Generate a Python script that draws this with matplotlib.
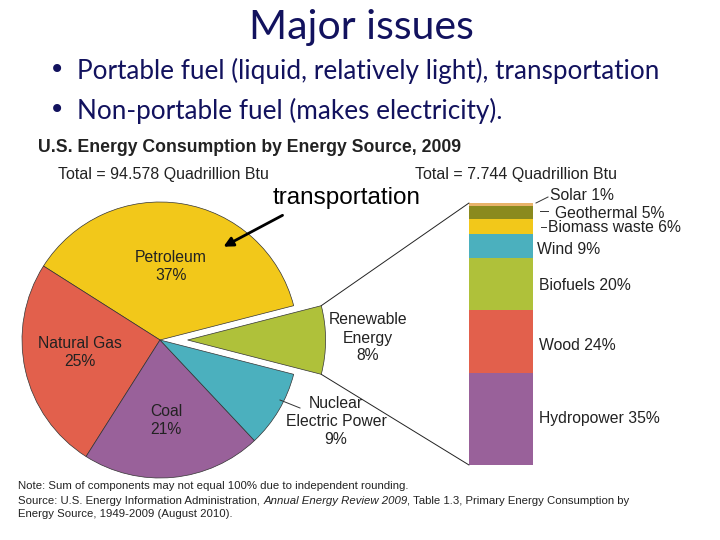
import matplotlib
matplotlib.use('Agg')
import matplotlib.pyplot as plt
from matplotlib.patches import ConnectionPatch, FancyArrowPatch
import numpy as np

# pie data (share of total US energy, 2009)
pie_labels = ['Renewable\nEnergy\n8%', 'Petroleum\n37%', 'Natural Gas\n25%', 'Coal\n21%',
              'Nuclear\nElectric Power\n9%']
pie_values = [8, 37, 25, 21, 9]
pie_colors = ['#AFC13A', '#F2C81A', '#E2604C', '#99619A', '#4BB0BE']

# renewable breakdown, bottom to top
bar_labels = ['Hydropower 35%', 'Wood 24%', 'Biofuels 20%', 'Wind 9%',
              'Biomass waste 6%', 'Geothermal 5%', 'Solar 1%']
bar_values = [35, 24, 20, 9, 6, 5, 1]
bar_colors = ['#99619A', '#E2604C', '#AFC13A', '#4BB0BE', '#F2C81A', '#8A8A1E', '#E9B36A']

W, H = 720, 540
fig = plt.figure(figsize=(7.2, 5.4), dpi=100)
fig.patch.set_facecolor('white')

# pie, centre at (160, 340) px, radius 138 px
cx, cy, R = 160, 340, 138
k = 1.4
side = 2 * k * R
ax = fig.add_axes([(cx - side / 2) / W, (H - cy - side / 2) / H, side / W, side / H])
wedges, _ = ax.pie(pie_values, colors=pie_colors, startangle=-14.4, counterclock=True,
                   explode=[0.2, 0, 0, 0, 0],
                   wedgeprops=dict(edgecolor='#333333', linewidth=0.5))
ax.set_xlim(-k, k)
ax.set_ylim(-k, k)
ax.set_aspect('equal')
ax.axis('off')

# stacked bar for the renewables
axb = fig.add_axes([469 / W, (H - 465) / H, 64 / W, 262 / H])
bottom = 0
for v, c in zip(bar_values, bar_colors):
    axb.bar(0, v, bottom=bottom, width=1, color=c, linewidth=0)
    bottom += v
axb.set_xlim(-0.5, 0.5)
axb.set_ylim(0, 100)
axb.axis('off')

# overlay in pixel coords for the text (on top)
bg = fig.add_axes([0, 0, 1, 1])
bg.set_xlim(0, W)
bg.set_ylim(H, 0)
bg.patch.set_alpha(0)
bg.axis('off')

navy = '#12125E'
bg.text(361, 27, 'Major issues', fontsize=29.5, family='Lato', color=navy,
        ha='center', va='center')
bg.text(57, 70, '\u2022', fontsize=20, color=navy, ha='center', va='center')
bg.text(57, 110, '\u2022', fontsize=20, color=navy, ha='center', va='center')
bg.text(77, 71, 'Portable fuel (liquid, relatively light), transportation', fontsize=18.8,
        family='Lato', color=navy, ha='left', va='center')
bg.text(77, 111, 'Non-portable fuel (makes electricity).', fontsize=18.8,
        family='Lato', color=navy, ha='left', va='center')

dark = '#222222'
bg.text(38, 148, 'U.S. Energy Consumption by Energy Source, 2009', fontsize=12.7,
        fontweight='bold', family='Liberation Sans', color=dark, ha='left', va='center')
bg.text(58, 174, 'Total = 94.578 Quadrillion Btu', fontsize=11.5, family='Liberation Sans',
        color=dark, ha='left', va='center')
bg.text(415, 174, 'Total = 7.744 Quadrillion Btu', fontsize=11.5, family='Liberation Sans',
        color=dark, ha='left', va='center')

lab_pos = [(368, 338), (171, 266), (80, 353), (166, 421), (336, 422)]
for lab, (x, y) in zip(pie_labels, lab_pos):
    bg.text(x, y, lab, fontsize=11.3, family='Liberation Sans', color=dark,
            ha='center', va='center', linespacing=1.25)
bg.plot([280, 300], [400, 408], color='#333333', lw=0.7)

bar_lab_pos = [(539, 418), (539, 345), (539, 286), (537, 249), (548, 228), (555, 213), (550, 196)]
for lab, (x, y) in zip(bar_labels, bar_lab_pos):
    bg.text(x, y, lab, fontsize=11.3, family='Liberation Sans', color=dark,
            ha='left', va='center')
bg.plot([536, 548], [203, 197], color='#333333', lw=0.7)
bg.plot([540, 548], [211, 211], color='#333333', lw=0.7)
bg.plot([541, 546], [227, 227], color='#333333', lw=0.7)

# lines from the exploded wedge to the bar
ren = wedges[0]
th1, th2 = np.radians(ren.theta1), np.radians(ren.theta2)
ox, oy = ren.center
for th, yb in [(th2, 100), (th1, 0)]:
    p = (ox + np.cos(th), oy + np.sin(th))
    con = ConnectionPatch(xyA=p, coordsA=ax.transData, xyB=(-0.5, yb), coordsB=axb.transData,
                          color=dark, lw=0.7)
    fig.add_artist(con)

# transportation annotation
bg.text(347, 198, 'transportation', fontsize=17.5, family='Liberation Sans', color='black',
        ha='center', va='center')
arr = FancyArrowPatch((285, 214), (221, 248), arrowstyle='-|>', mutation_scale=14,
                      color='black', lw=2)
bg.add_patch(arr)

# notes
fs = 8.2
t1 = bg.text(18, 486, 'Note: Sum of components may not equal 100% due to independent rounding.',
             fontsize=fs, family='Liberation Sans', color=dark, ha='left', va='center')
s1 = bg.text(18, 501, 'Source: U.S. Energy Information Administration, ', fontsize=fs,
             family='Liberation Sans', color=dark, ha='left', va='center')
s2 = bg.annotate('Annual Energy Review 2009', xy=(1, 0), xycoords=s1, fontsize=fs,
                 style='italic', family='Liberation Sans', color=dark, ha='left', va='bottom')
bg.annotate(', Table 1.3, Primary Energy Consumption by', xy=(1, 0), xycoords=s2, fontsize=fs,
            family='Liberation Sans', color=dark, ha='left', va='bottom')
bg.text(18, 514, 'Energy Source, 1949-2009 (August 2010).', fontsize=fs,
        family='Liberation Sans', color=dark, ha='left', va='center')

fig.savefig('out.png', dpi=100, facecolor='white')
